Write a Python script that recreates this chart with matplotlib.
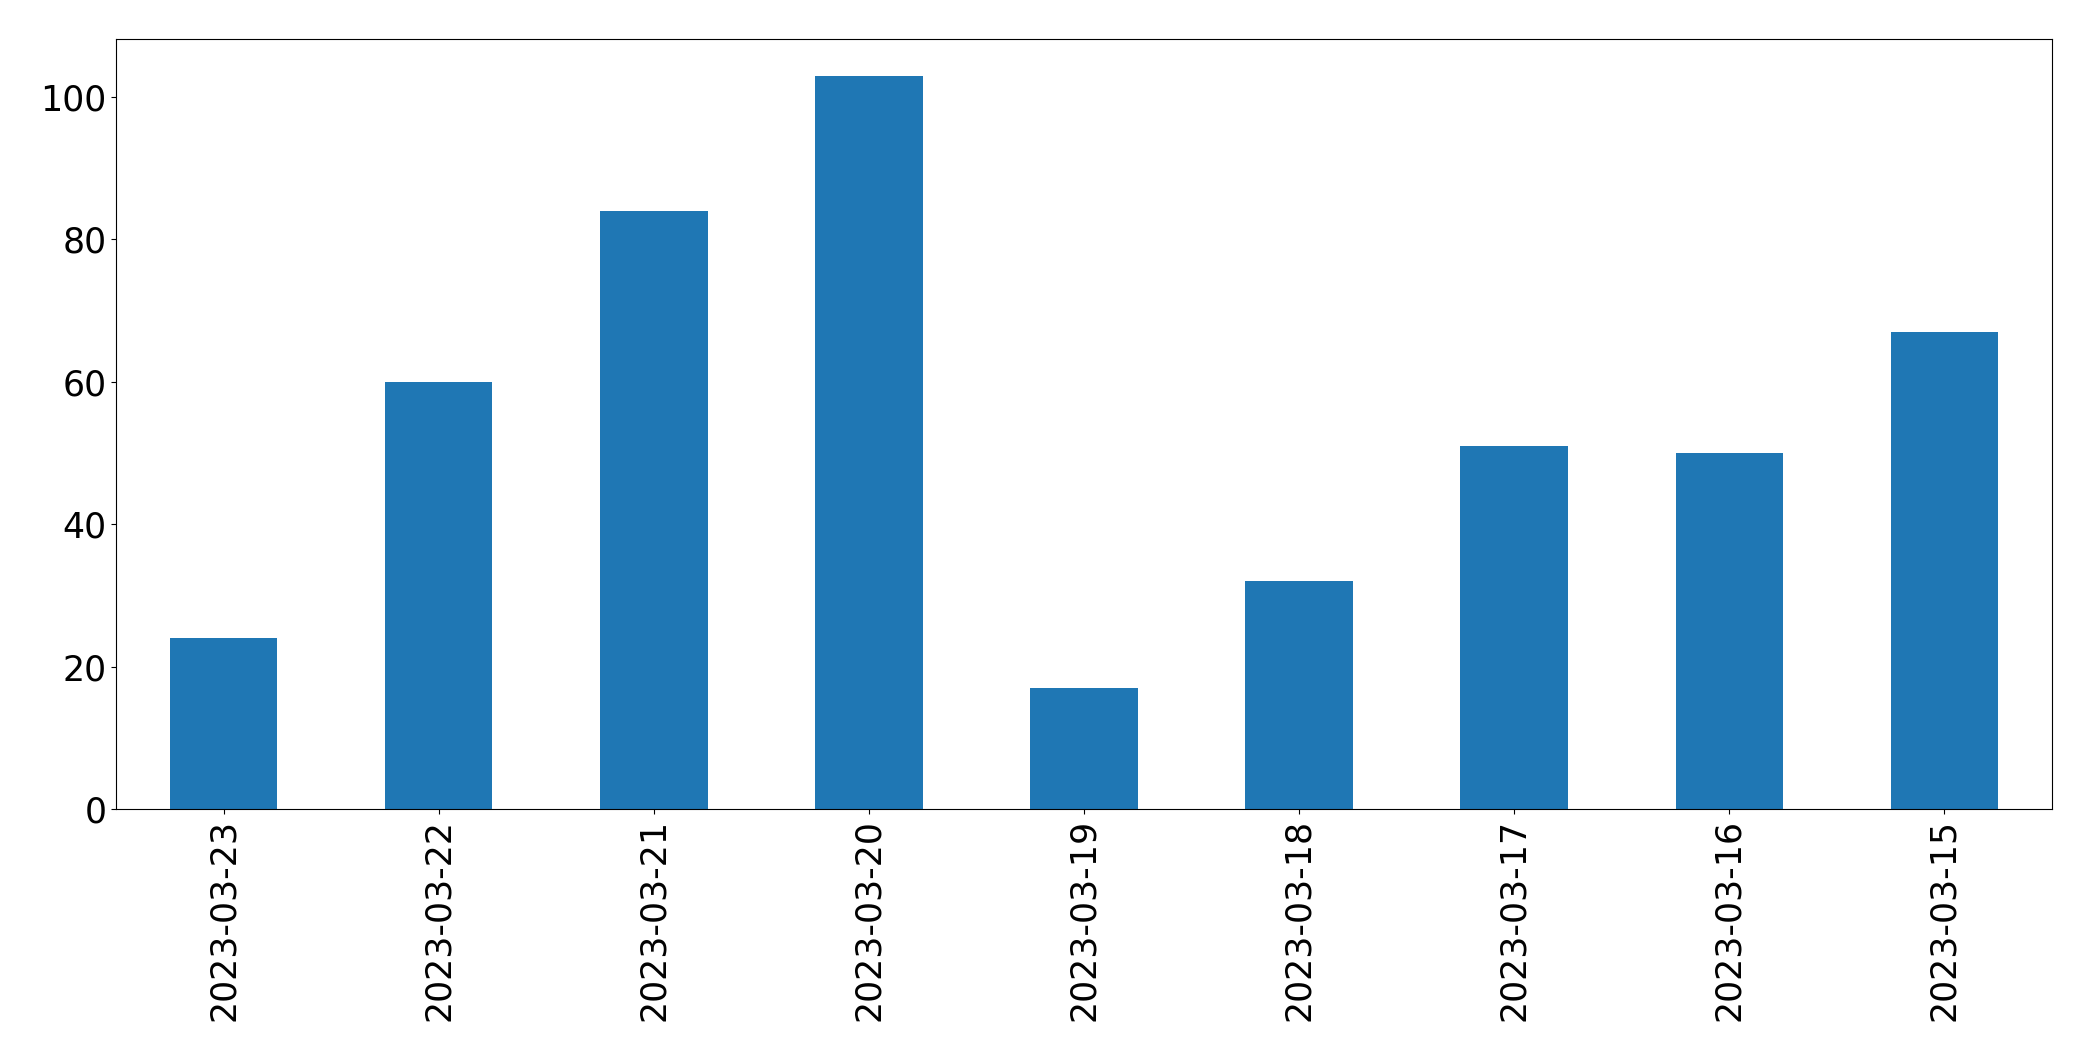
import matplotlib
matplotlib.use("Agg")
import matplotlib.pyplot as plt
import pandas as pd

dates = ["2023-03-23", "2023-03-22", "2023-03-21", "2023-03-20", "2023-03-19",
         "2023-03-18", "2023-03-17", "2023-03-16", "2023-03-15"]
counts = [24, 60, 84, 103, 17, 32, 51, 50, 67]

s = pd.Series(counts, index=dates)

fig = plt.figure(figsize=(20.93, 10.61), dpi=100)
ax = fig.add_subplot(111)
s.plot(kind="bar", ax=ax, color="#1f77b4")
ax.tick_params(axis="both", labelsize=25)
fig.subplots_adjust(left=116 / 2093, right=2052 / 2093, top=1 - 39 / 1061, bottom=1 - 809 / 1061)
fig.savefig("out.png", dpi=100)
